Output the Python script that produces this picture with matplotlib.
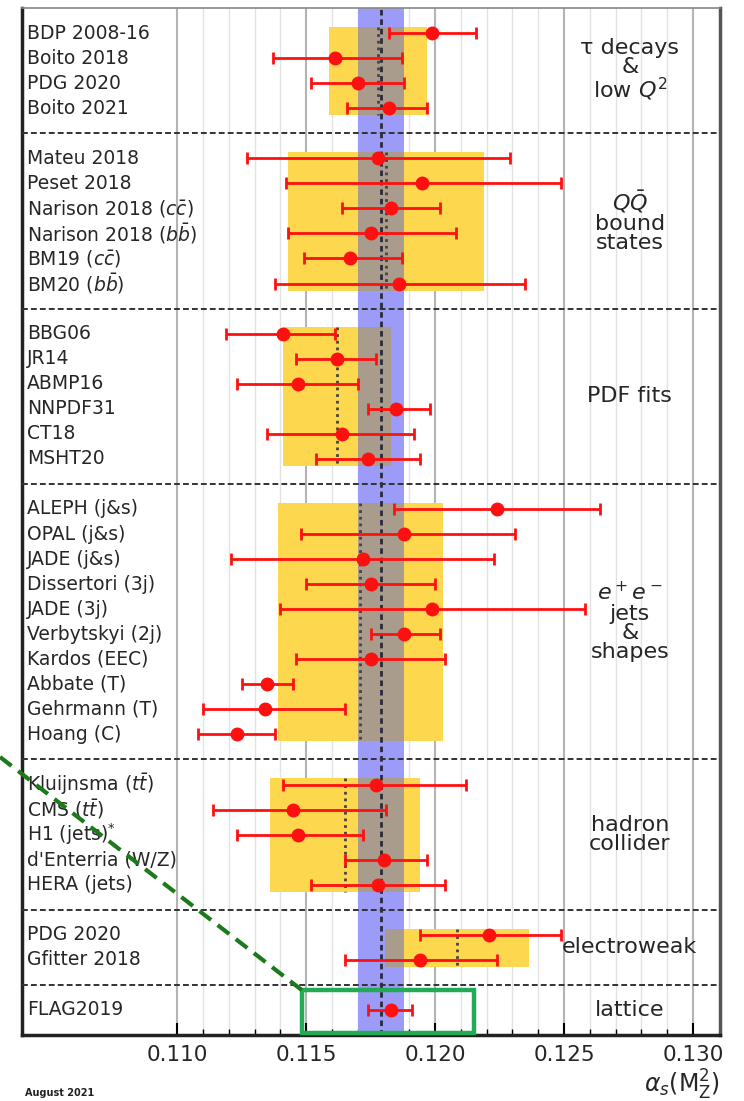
import matplotlib
matplotlib.use("Agg")
import matplotlib.pyplot as plt
import numpy as np
from matplotlib.patches import Rectangle
from matplotlib.lines import Line2D

# measurements, top to bottom
labels = [
    "BDP 2008-16", "Boito 2018", "PDG 2020", "Boito 2021",
    "Mateu 2018", "Peset 2018", r"Narison 2018 $(c\bar{c})$", r"Narison 2018 $(b\bar{b})$",
    r"BM19 $(c\bar{c})$", r"BM20 $(b\bar{b})$",
    "BBG06", "JR14", "ABMP16", "NNPDF31", "CT18", "MSHT20",
    "ALEPH (j&s)", "OPAL (j&s)", "JADE (j&s)", "Dissertori (3j)", "JADE (3j)",
    "Verbytskyi (2j)", "Kardos (EEC)", "Abbate (T)", "Gehrmann (T)", "Hoang (C)",
    r"Kluijnsma $(t\bar{t})$", r"CMS $(t\bar{t})$", r"H1 (jets)$^{*}$", "d'Enterria (W/Z)", "HERA (jets)",
    "PDG 2020", "Gfitter 2018",
    "FLAG2019",
]
values = [0.1199, 0.1161, 0.1170, 0.1182,
          0.1178, 0.1195, 0.1183, 0.1175, 0.1167, 0.1186,
          0.1141, 0.1162, 0.1147, 0.1185, 0.1164, 0.1174,
          0.1224, 0.1188, 0.1172, 0.1175, 0.1199, 0.1188, 0.1175, 0.1135, 0.1134, 0.1123,
          0.1177, 0.1145, 0.1147, 0.1180, 0.1178,
          0.1221, 0.1194,
          0.1183]
lows = [0.1182, 0.1137, 0.1152, 0.1166,
        0.1127, 0.1142, 0.1164, 0.1143, 0.1149, 0.1138,
        0.1119, 0.1146, 0.1123, 0.1174, 0.1135, 0.1154,
        0.1184, 0.1148, 0.1121, 0.1150, 0.1140, 0.1175, 0.1146, 0.1125, 0.1110, 0.1108,
        0.1141, 0.1114, 0.1123, 0.1165, 0.1152,
        0.1194, 0.1165,
        0.1174]
highs = [0.1216, 0.1187, 0.1188, 0.1197,
         0.1229, 0.1249, 0.1202, 0.1208, 0.1187, 0.1235,
         0.1161, 0.1177, 0.1170, 0.1198, 0.1192, 0.1194,
         0.1264, 0.1231, 0.1223, 0.1200, 0.1258, 0.1202, 0.1204, 0.1145, 0.1165, 0.1138,
         0.1212, 0.1181, 0.1172, 0.1197, 0.1204,
         0.1249, 0.1224,
         0.1191]

section_sizes = [4, 6, 6, 10, 5, 2, 1]
section_titles = ["τ decays\n&\nlow $Q^2$", "$Q\\bar{Q}$\nbound\nstates", "PDF fits",
                  "$e^+e^-$\njets\n&\nshapes", "hadron\ncollider", "electroweak", "lattice"]
section_avg = [0.1178, 0.1181, 0.1162, 0.1171, 0.1165, 0.12085, None]
section_err = [0.0019, 0.0038, 0.0021, 0.0032, 0.0029, 0.0028, None]

world_avg = 0.1179
world_err = 0.0009

major_ticks = [0.110, 0.115, 0.120, 0.125, 0.130]
tick_labels = ["0.110", "0.115", "0.120", "0.125", "0.130"]


def main():
    fig = plt.figure(figsize=(7.44, 11.01), dpi=100)
    ax = fig.add_axes([22 / 744, 1 - 1035 / 1101, 698 / 744, 1027 / 1101])

    # row layout: one blank row between sections
    rows, seps, spans = [], [], []
    r = 1
    for n in section_sizes:
        rows += list(range(r, r + n))
        spans.append((r, r + n - 1))
        r += n
        seps.append(r)
        r += 1
    seps = seps[:-1]
    ymax = r - 1

    xmin, xmax = 0.10398, 0.13105
    ax.set_xlim(xmin, xmax)
    ax.set_ylim(ymax, 0)

    # world average band
    lo_w, hi_w = world_avg - world_err, world_avg + world_err
    ax.axvspan(lo_w, hi_w, color="#9c9cf8", zorder=1, lw=0)

    # section pre-averages
    for (r0, r1), avg, err in zip(spans, section_avg, section_err):
        if avg is None:
            continue
        y0, y1 = r0 - 0.25, r1 + 0.28
        ax.add_patch(Rectangle((avg - err, y0), 2 * err, y1 - y0,
                               facecolor="#fdd84e", edgecolor="none", zorder=2))
        ol, oh = max(avg - err, lo_w), min(avg + err, hi_w)
        if oh > ol:
            ax.add_patch(Rectangle((ol, y0), oh - ol, y1 - y0,
                                   facecolor="#aa9c8c", edgecolor="none", zorder=3))
        ax.plot([avg, avg], [y0, y1], color="#444444", lw=2,
                ls=(0, (1, 1.4)), zorder=4)

    ax.axvline(world_avg, color="#2a2a3a", lw=2, ls=(0, (2, 1.4)), zorder=4)

    for s in seps:
        ax.axhline(s, color="#333333", lw=1.4, ls=(0, (3, 1.6)), zorder=4)

    vals = np.array(values)
    xerr = [vals - np.array(lows), np.array(highs) - vals]
    ax.errorbar(vals, rows, xerr=xerr, fmt="o", color="#ff1010", ms=9,
                elinewidth=2, capsize=4, capthick=2, zorder=6)

    for lab, y in zip(labels, rows):
        ax.text(0.10418, y, lab, ha="left", va="center", fontsize=13.5,
                color="#262626", zorder=7)

    for (r0, r1), title in zip(spans, section_titles):
        ax.text(0.12755, (r0 + r1) / 2, title, ha="center", va="center",
                fontsize=16, color="#262626", linespacing=0.95, zorder=7)

    # axes styling
    ax.set_yticks([])
    ax.set_xticks(major_ticks)
    ax.set_xticklabels(tick_labels, fontsize=15.5, color="#262626")
    ax.set_xticks(np.arange(0.110, 0.1305, 0.001), minor=True)
    ax.tick_params(axis="x", which="major", direction="in", length=9, width=1.5, pad=7)
    ax.tick_params(axis="x", which="minor", direction="in", length=4, width=1)
    ax.grid(axis="x", which="major", color="#b4b4b4", lw=1.5)
    ax.grid(axis="x", which="minor", color="#e2e2e2", lw=1)
    ax.set_axisbelow(True)
    for side in ["left", "bottom", "right"]:
        ax.spines[side].set_linewidth(2.5)
        ax.spines[side].set_color("#222222")
    ax.spines["right"].set_color("#555555")
    ax.spines["top"].set_linewidth(1.2)
    ax.spines["top"].set_color("#888888")

    ax.set_xlabel(r"$\alpha_s(\mathrm{M}_\mathrm{Z}^2)$", loc="right", fontsize=17,
                  color="#262626", labelpad=2)
    fig.text(25 / 744, 1 - 1093 / 1101, "August 2021", fontsize=7, fontweight="bold",
             color="#222222", va="center")

    # highlight annotation
    fig.add_artist(Rectangle((302 / 744, 1 - 1033 / 1101), 172 / 744, 43 / 1101,
                             transform=fig.transFigure, fill=False,
                             edgecolor="#22aa55", lw=3.2, zorder=10))
    fig.add_artist(Line2D([0, 303 / 744], [1 - 757 / 1101, 1 - 991 / 1101],
                          transform=fig.transFigure, color="#1c7a1c", lw=3,
                          ls=(0, (3.5, 2)), zorder=10))

    fig.savefig("out.png", dpi=100)


if __name__ == "__main__":
    main()
